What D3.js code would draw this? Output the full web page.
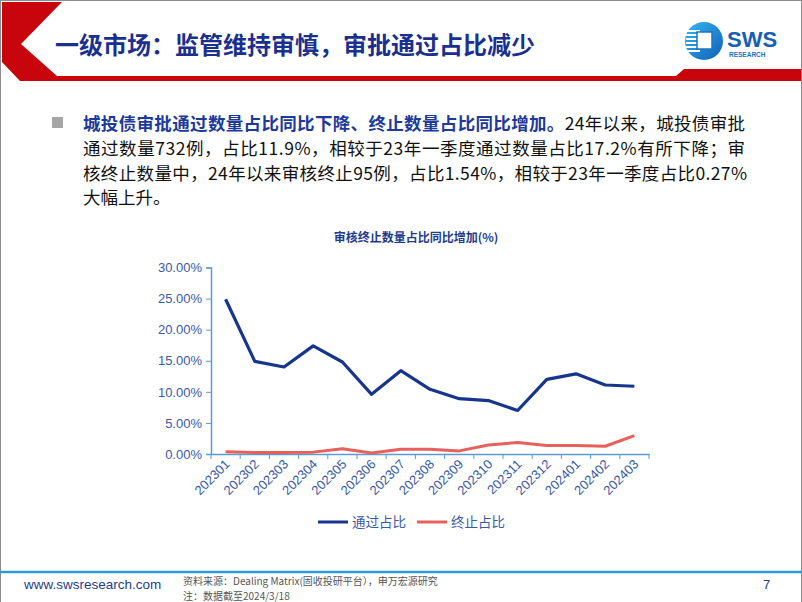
<!DOCTYPE html>
<html>
<head>
<meta charset="utf-8">
<script src="https://d3js.org/d3.v7.min.js"></script>
<style>
  body{ margin:0; background:#fff; }
  svg{ display:block; }
  .cjk{ font-family:"Noto Sans CJK SC","Noto Sans",sans-serif; }
  .tick text{ font-family:"Liberation Sans",Arial,sans-serif; }
</style>
</head>
<body>
<div id="slide"></div>
<script>
// chart data
var months = ["202301","202302","202303","202304","202305","202306","202307","202308",
              "202309","202310","202311","202312","202401","202402","202403"];
var passShare = [24.9, 14.9, 14.0, 17.4, 14.8, 9.6, 13.4, 10.4, 8.9, 8.6, 7.0, 12.0, 12.9, 11.1, 10.9];
var stopShare = [0.35, 0.25, 0.25, 0.3, 0.85, 0.15, 0.75, 0.75, 0.5, 1.45, 1.85, 1.35, 1.35, 1.25, 2.95];
var yTicks = [0, 5, 10, 15, 20, 25, 30];
var seriesNames = ["通过占比", "终止占比"];

var width = 802, height = 602;
var svg = d3.select("#slide").append("svg")
    .attr("width", width).attr("height", height);

// page frame
svg.append("rect").attr("x",0.5).attr("y",0.5).attr("width",width-1).attr("height",height+10)
    .attr("fill","none").attr("stroke","#8c8c8c");

// header: red chevron + bar
svg.append("path")
    .attr("d","M2,2 L62,2 L21,44 L57,76 L676,76 L684,69 L801,69 L801,81 L20,81 L2,62 Z")
    .attr("fill","#c8050d");
svg.append("text").attr("class","cjk")
    .attr("x",55).attr("y",54)
    .attr("font-size",24).attr("font-weight","bold").attr("fill","#1a2f8f")
    .text("一级市场：监管维持审慎，审批通过占比减少");

// logo
var logo = svg.append("g");
var grad = svg.append("defs").append("linearGradient").attr("id","lg")
    .attr("x1","0").attr("y1","0").attr("x2","1").attr("y2","1");
grad.append("stop").attr("offset","0").attr("stop-color","#35b6ef");
grad.append("stop").attr("offset","1").attr("stop-color","#1060b8");
logo.append("circle").attr("cx",704).attr("cy",41).attr("r",19).attr("fill","url(#lg)");
[30,34,38,42,46,50].forEach(function(yy){
  logo.append("rect").attr("x",686).attr("y",yy).attr("width",14).attr("height",2).attr("fill","#fff");
});
logo.append("rect").attr("x",697).attr("y",32).attr("width",15).attr("height",17)
    .attr("fill","#fff").attr("stroke","#1a74c4").attr("stroke-width",1.5);
logo.append("text").attr("x",727).attr("y",47)
    .attr("font-family","Liberation Sans, Arial, sans-serif").attr("font-weight","bold")
    .attr("font-size",22).attr("fill","#1560b4").text("SWS");
logo.append("text").attr("x",729).attr("y",57)
    .attr("font-family","Liberation Sans, Arial, sans-serif").attr("font-weight","bold")
    .attr("font-size",6.5).attr("fill","#1a74c4").text("RESEARCH");

// bullet paragraph
svg.append("rect").attr("x",52).attr("y",117).attr("width",11).attr("height",11).attr("fill","#a6a6a6");
var para = svg.append("text").attr("class","cjk").attr("font-size",17.5).attr("fill","#111");
var l1 = para.append("tspan").attr("x",83).attr("y",130).attr("textLength",662).attr("lengthAdjust","spacing");
l1.append("tspan").attr("fill","#1d3a9a").attr("font-weight","bold").text("城投债审批通过数量占比同比下降、终止数量占比同比增加。");
l1.append("tspan").text("24年以来，城投债审批");
para.append("tspan").attr("x",83).attr("y",155).attr("textLength",662).attr("lengthAdjust","spacing")
    .text("通过数量732例，占比11.9%，相较于23年一季度通过数量占比17.2%有所下降；审");
para.append("tspan").attr("x",83).attr("y",180).attr("textLength",664).attr("lengthAdjust","spacing")
    .text("核终止数量中，24年以来审核终止95例，占比1.54%，相较于23年一季度占比0.27%");
para.append("tspan").attr("x",83).attr("y",204).text("大幅上升。");

// chart
var x0 = 211, x1 = 649, yTop = 267.5, yBot = 454;
var x = d3.scaleBand().domain(months).range([x0, x1]);
var y = d3.scaleLinear().domain([0, 30]).range([yBot, yTop]);
var axisColor = "#5b9bd5", labelColor = "#3a5aa6";

svg.append("text").attr("class","cjk")
    .attr("x",416).attr("y",242).attr("text-anchor","middle")
    .attr("font-size",12).attr("font-weight","bold").attr("fill","#1f3c8c")
    .text("审核终止数量占比同比增加(%)");

var yAxis = svg.append("g").attr("transform","translate("+x0+",0)")
    .call(d3.axisLeft(y).tickValues(yTicks).tickSize(5).tickPadding(4)
      .tickFormat(function(d){ return d.toFixed(2) + "%"; }));
yAxis.select(".domain").attr("stroke",axisColor).attr("stroke-width",1.5);
yAxis.selectAll(".tick line").attr("stroke",axisColor);
yAxis.selectAll(".tick text").attr("fill",labelColor).attr("font-size",13);

var xAxis = svg.append("g").attr("transform","translate(0,"+yBot+")")
    .call(d3.axisBottom(x).tickSize(0).tickFormat(""));
xAxis.select(".domain").attr("stroke",axisColor).attr("stroke-width",1.5);
var edges = months.map(function(m){ return x(m); }).concat([x1]);
xAxis.selectAll(".edge").data(edges).enter().append("line")
    .attr("x1",function(d){ return d; }).attr("x2",function(d){ return d; })
    .attr("y1",0).attr("y2",5).attr("stroke",axisColor);
xAxis.selectAll(".lab").data(months).enter().append("text")
    .attr("transform",function(d){ return "translate("+(x(d)+x.bandwidth()/2+5)+",11) rotate(-45)"; })
    .attr("text-anchor","end")
    .attr("font-family","Liberation Sans, Arial, sans-serif").attr("font-size",13)
    .attr("fill",labelColor).text(function(d){ return d; });

var line = d3.line()
    .x(function(d,i){ return x(months[i]) + x.bandwidth()/2; })
    .y(function(d){ return y(d); });
svg.append("path").datum(stopShare).attr("d",line)
    .attr("fill","none").attr("stroke","#e8605c").attr("stroke-width",3).attr("stroke-linejoin","round");
svg.append("path").datum(passShare).attr("d",line)
    .attr("fill","none").attr("stroke","#17358c").attr("stroke-width",3.2).attr("stroke-linejoin","round");

// legend
var legColors = ["#17358c","#e8605c"];
var leg = svg.selectAll(".leg").data(seriesNames).enter().append("g")
    .attr("transform",function(d,i){ return "translate("+(318 + i*99)+",522)"; });
leg.append("line").attr("x1",0).attr("x2",30).attr("y1",0).attr("y2",0)
    .attr("stroke",function(d,i){ return legColors[i]; }).attr("stroke-width",3);
leg.append("text").attr("class","cjk").attr("x",34).attr("y",5)
    .attr("font-size",13.5).attr("fill",labelColor).text(function(d){ return d; });

// footer
svg.append("line").attr("x1",0).attr("x2",width).attr("y1",572).attr("y2",572)
    .attr("stroke","#2e9ccf").attr("stroke-width",2.5);
svg.append("text").attr("x",24).attr("y",589)
    .attr("font-family","Liberation Sans, Arial, sans-serif").attr("font-size",13.5)
    .attr("fill","#1f3c8c").text("www.swsresearch.com");
svg.append("text").attr("class","cjk").attr("font-size",10).attr("fill","#555")
    .attr("x",183).attr("y",585).text("资料来源：Dealing Matrix(固收投研平台），申万宏源研究");
svg.append("text").attr("class","cjk").attr("font-size",10).attr("fill","#555")
    .attr("x",183).attr("y",600).text("注：数据截至2024/3/18");
svg.append("text").attr("x",763).attr("y",589)
    .attr("font-family","Liberation Sans, Arial, sans-serif").attr("font-size",13)
    .attr("fill","#1f3c8c").text("7");
</script>
</body>
</html>
